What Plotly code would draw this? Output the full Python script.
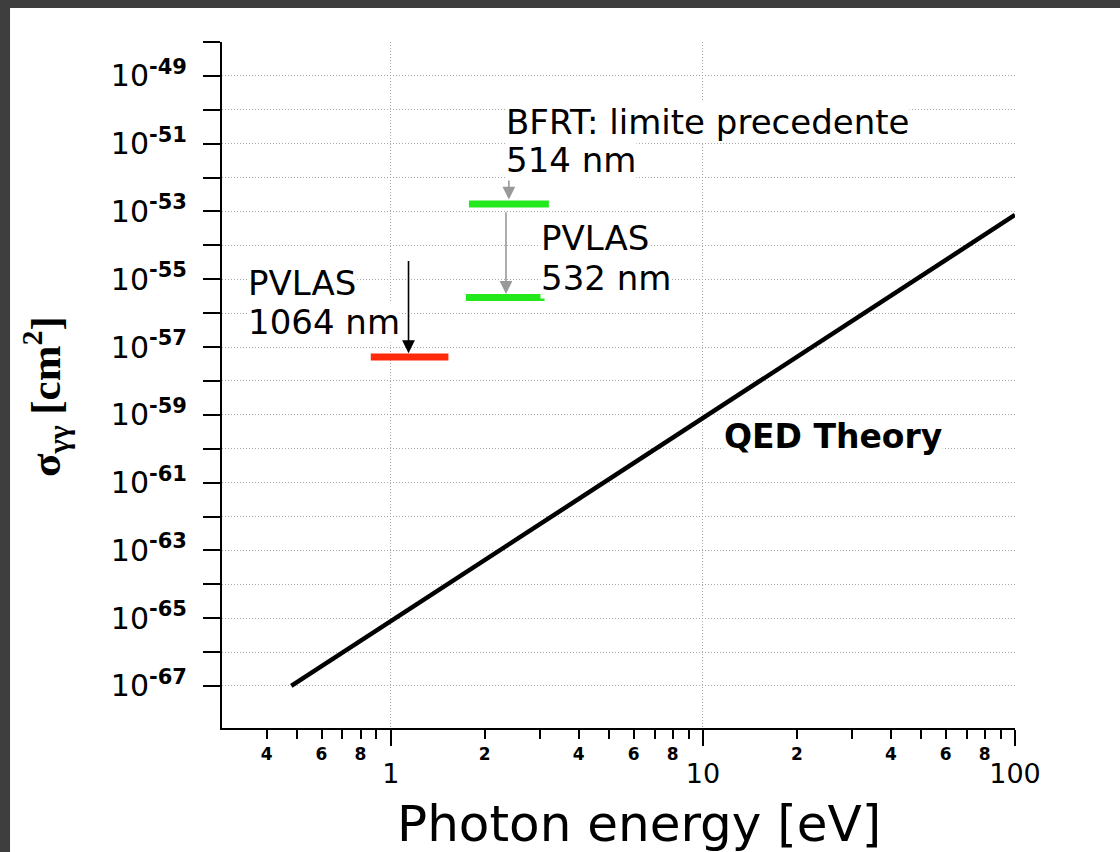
import math
import plotly.graph_objects as go

# ---------------- data ----------------
qed_energy = [0.48, 100.0]          # eV
qed_sigma = [1.0e-67, 7.9e-54]      # cm^2

bfrt_energy = [1.78, 3.21]
bfrt_sigma = [1.66e-53, 1.66e-53]

pvlas532_energy = [1.74, 3.11]
pvlas532_sigma = [2.9e-56, 2.9e-56]

pvlas1064_energy = [0.863, 1.53]
pvlas1064_sigma = [5.1e-58, 5.1e-58]

# arrows: energy, sigma start (tail), sigma end (head)
arrow_energy = [2.39, 2.34, 1.14]
arrow_sigma_tail = [1.0e-52, 1.05e-53, 3.8e-55]
arrow_sigma_head = [2.24e-53, 3.7e-56, 6.6e-58]
arrow_colors = ["#999999", "#999999", "#000000"]

y_tick_exponents = list(range(-67, -47))
x_minor_vals = [0.4, 0.5, 0.6, 0.7, 0.8, 0.9,
                2, 3, 4, 5, 6, 7, 8, 9,
                20, 30, 40, 50, 60, 70, 80, 90]
x_minor_text = ["4", "", "6", "", "8", "",
                "2", "", "4", "", "6", "", "8", "",
                "2", "", "4", "", "6", "", "8", ""]
x_major_vals = [1, 10, 100]
x_major_text = ["1", "10", "100"]

FONT = "DejaVu Sans"
GRID = "#a8a8a8"
DARK = "#3e3e3e"

fig = go.Figure()

fig.add_trace(go.Scatter(x=qed_energy, y=qed_sigma, mode="lines",
                         line=dict(color="black", width=4.5), showlegend=False))
fig.add_trace(go.Scatter(x=bfrt_energy, y=bfrt_sigma, mode="lines",
                         line=dict(color="#22e81c", width=7), showlegend=False))
fig.add_trace(go.Scatter(x=pvlas532_energy, y=pvlas532_sigma, mode="lines",
                         line=dict(color="#22e81c", width=7), showlegend=False))
fig.add_trace(go.Scatter(x=pvlas1064_energy, y=pvlas1064_sigma, mode="lines",
                         line=dict(color="#ff2a0a", width=7), showlegend=False))
# dummy trace to activate the overlay axis for minor labels
fig.add_trace(go.Scatter(x=[1], y=[1e-60], xaxis="x2", mode="markers",
                         marker=dict(opacity=0), showlegend=False, hoverinfo="skip"))

y_ticktext = [("10<sup><b>%d</b></sup>" % e) if e % 2 else "" for e in y_tick_exponents]

fig.update_layout(
    width=1120, height=852,
    margin=dict(l=222, r=105, t=42, b=124),
    paper_bgcolor="white",
    plot_bgcolor="white",
    showlegend=False,
    font=dict(family=FONT, color="black"),
    xaxis=dict(
        type="log", range=[-0.5407, 2.0],
        tickmode="array", tickvals=x_major_vals, ticktext=x_major_text,
        ticks="outside", ticklen=16, tickwidth=2, tickcolor="black",
        tickfont=dict(size=27, family=FONT, color="black"),
        ticklabelstandoff=5,
        showline=True, linecolor="black", linewidth=2,
        showgrid=True, gridcolor=GRID, gridwidth=1, griddash="1px,2px",
        zeroline=False,
        minor=dict(tickmode="array", tickvals=x_minor_vals, ticks="outside",
                   ticklen=9, tickwidth=2, tickcolor="black", showgrid=False),
    ),
    xaxis2=dict(
        type="log", range=[-0.5407, 2.0], overlaying="x", side="bottom", anchor="y",
        tickmode="array", tickvals=x_minor_vals, ticktext=x_minor_text,
        ticks="", tickfont=dict(size=17, family=FONT, color="black", weight="bold"),
        ticklabelstandoff=14,
        showline=False, showgrid=False, zeroline=False,
    ),
    yaxis=dict(
        type="log", range=[-68.24, -48.0],
        tickmode="array", tickvals=[10.0 ** e for e in y_tick_exponents], ticktext=y_ticktext,
        ticks="outside", ticklen=17, tickwidth=2, tickcolor="black",
        tickfont=dict(size=30, family=FONT, color="black"),
        ticklabelstandoff=10,
        showline=True, linecolor="black", linewidth=2,
        showgrid=True, gridcolor=GRID, gridwidth=1, griddash="1px,2px",
        zeroline=False,
    ),
)

# dark border strips (top and left) of the original slide
fig.add_shape(type="rect", xref="paper", yref="paper",
              x0=-0.29, x1=1.14, y0=1.0496, y1=1.1,
              fillcolor=DARK, line=dict(width=0), layer="below")
fig.add_shape(type="rect", xref="paper", yref="paper",
              x0=-0.29, x1=-0.2673, y0=-0.2, y1=1.1,
              fillcolor=DARK, line=dict(width=0), layer="below")

L = math.log10
ann = []
# arrows
for e, s0, s1, c in zip(arrow_energy, arrow_sigma_tail, arrow_sigma_head, arrow_colors):
    ann.append(dict(x=L(e), y=L(s1), ax=L(e), ay=L(s0), xref="x", yref="y",
                    axref="x", ayref="y", text="", showarrow=True,
                    arrowhead=2, arrowsize=1.6, arrowwidth=1.6, arrowcolor=c, standoff=0))

TXT = dict(family=FONT, size=34, color="black")
labels = [
    (2.32, -50.35, "BFRT: limite precedente"),
    (2.32, -51.47, "514 nm"),
    (3.0, -53.77, "PVLAS"),
    (3.0, -54.95, "532 nm"),
    (0.3455, -55.10, "PVLAS"),
    (0.3455, -56.25, "1064 nm"),
]
for ex, ly, t in labels:
    ann.append(dict(x=L(ex), y=ly, xref="x", yref="y", xanchor="left", yanchor="middle",
                    text=t, align="left", showarrow=False,
                    font=TXT, bgcolor="white", borderpad=0))
ann.append(dict(x=L(11.6), y=-59.65, xref="x", yref="y", xanchor="left", yanchor="middle",
                text="<b>QED Theory</b>", showarrow=False,
                font=dict(family=FONT, size=33, color="black"), bgcolor="white", borderpad=0))
# axis titles
ann.append(dict(x=0.526, y=-0.14, xref="paper", yref="paper", xanchor="center", yanchor="middle",
                text="Photon energy [eV]", showarrow=False,
                font=dict(family=FONT, size=50, color="black")))
ann.append(dict(x=-0.2232, y=0.4825, xref="paper", yref="paper", xanchor="center", yanchor="middle",
                text="<b>σ<sub>γγ</sub> [cm<sup>2</sup>]</b>", showarrow=False, textangle=-90,
                font=dict(family="Liberation Serif", size=43, color="black")))
fig.update_layout(annotations=ann)

fig.write_html("out.html")
